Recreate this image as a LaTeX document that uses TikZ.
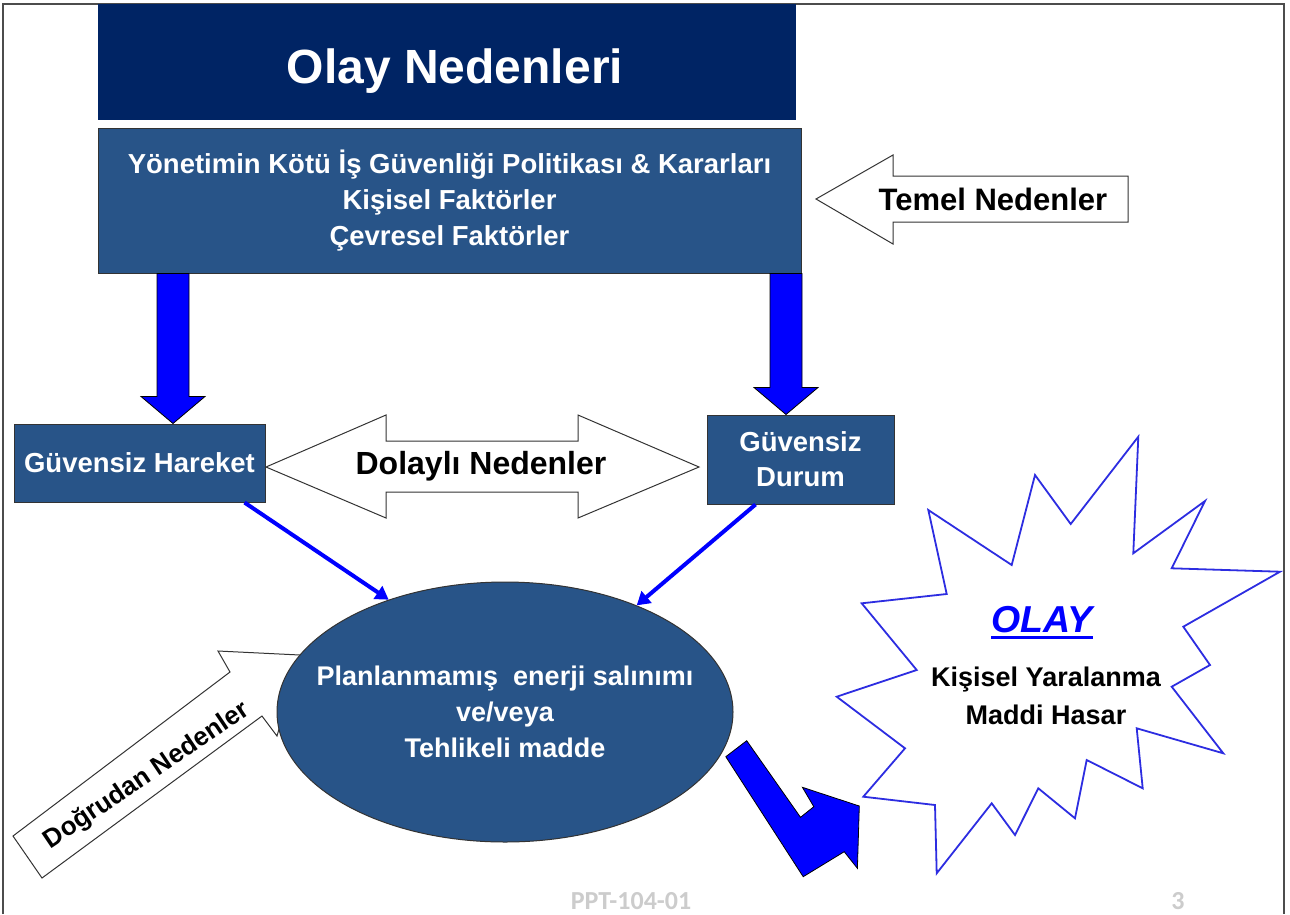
\documentclass[tikz,border=0pt]{standalone}
\usepackage{fontspec}
\setmainfont{Liberation Sans}
\newfontfamily\footfont{Carlito}
\usetikzlibrary{shapes.geometric,calc,arrows.meta}
\definecolor{titlenavy}{RGB}{0,36,100}
\definecolor{boxblue}{RGB}{40,84,136}
\definecolor{starblue}{RGB}{45,45,225}

% fat blue arrow from #1 (top of shaft) down to #2 (tip)
\newcommand{\fatdown}[2]{%
  \filldraw[fatarrow] ($(#1)+(-16,0)$) -- ($(#2)+(-16,-27)$) -- ($(#2)+(-32,-27)$) -- (#2)
    -- ($(#2)+(32,-27)$) -- ($(#2)+(16,-27)$) -- ($(#1)+(16,0)$) -- cycle;}

\begin{document}
\begin{tikzpicture}[x=1pt,y=-1pt,
	bluebox/.style={draw=black!80, line width=1pt, fill=boxblue, text=white, align=center, inner sep=0pt, font=\bfseries\fontsize{27.5}{35}\selectfont},
	fatarrow/.style={fill=blue, draw=black, line width=0.8pt},
	thinarrow/.style={draw=blue, line width=4pt, -{Triangle[length=13pt,width=15pt]}},
	hollow/.style={fill=white, draw=black!80, line width=1pt},
	darktext/.style={text=black, inner sep=0pt, font=\bfseries\fontsize{#1}{#1}\selectfont},
	foottext/.style={text=gray!40, inner sep=0pt, font=\footfont\bfseries\fontsize{26}{26}\selectfont}]
	\useasboundingbox (0,0) rectangle (1290,914);
	\draw[black!70, line width=1.5pt] (3,914) -- (3,4) -- (1284,4) -- (1284,914);

	\node[fill=titlenavy, minimum width=698pt, minimum height=116pt] (title) at (447,62) {};
	\node[text=white, inner sep=0pt, font=\bfseries\fontsize{48}{58}\selectfont] (titletext) at ([xshift=8pt,yshift=-9pt]title.center) {Olay Nedenleri};
	\node[bluebox, minimum width=703pt, minimum height=145pt, font=\bfseries\fontsize{27.5}{36}\selectfont] (main) at (449.5,200.5)
	{Yönetimin Kötü İş Güvenliği Politikası \& Kararları\\Kişisel Faktörler\\Çevresel Faktörler};

	\filldraw[hollow] (816,199) -- (893,155) -- (893,176) -- (1128,176) -- (1128,222) -- (893,222) -- (893,244) -- cycle;
	\node[darktext=31] (temel) at (993,199) {Temel Nedenler};

	\node[bluebox, minimum width=251pt, minimum height=78pt] (hareket) at (139.5,463) {Güvensiz Hareket};
	\node[bluebox, minimum width=187pt, minimum height=89pt] (durum) at (800.5,459.5) {Güvensiz\\Durum};

	\coordinate (lx) at (173,0);
	\coordinate (rx) at (786,0);
	\coordinate (ltop) at (main.south -| lx);
	\coordinate (ltip) at (hareket.north -| lx);
	\coordinate (rtop) at (main.south -| rx);
	\coordinate (rtip) at (durum.north -| rx);
	\fatdown{ltop}{ltip}
	\fatdown{rtop}{rtip}

	\filldraw[hollow] (266,467) -- (386,415) -- (386,441) -- (578,441) -- (578,415) -- (699,467)
	-- (578,518) -- (578,492) -- (386,492) -- (386,518) -- cycle;
	\node[darktext=32] (dolayli) at (481,466) {Dolaylı Nedenler};

	\filldraw[hollow] (13,836) -- (230,672) -- (218,651) -- (300,655) -- (277,736) -- (262,716) -- (42,878) -- cycle;
	\node[darktext=26, rotate=34] (dogrudan) at (147,776) {Doğrudan Nedenler};

	\node[ellipse, draw=black!80, line width=1pt, fill=boxblue, inner sep=0pt,
	minimum width=456pt, minimum height=260pt] (plan) at (505,712) {};
	\node[text=white, align=center, inner sep=0pt, font=\bfseries\fontsize{27}{36}\selectfont] (plantext) at (plan.center)
	{Planlanmamış~ enerji salınımı\\ve/veya\\Tehlikeli madde};

	\draw[thinarrow] ([xshift=-21pt]hareket.south east) -- (plan.136.8);
	\draw[thinarrow] ([xshift=49pt]durum.south west) -- (plan.39.5);

	\filldraw[fatarrow] (746.7,740.7) -- (725.8,756.7) -- (803.2,876.7) -- (844.2,851.7) -- (857.4,868.3)
	-- (859.3,806) -- (802.4,787.3) -- (813.8,806.7) -- (800.5,817.3) -- cycle;

	\filldraw[fill=white, draw=starblue, line width=1.8pt, line join=miter]
	(1138.3,436.7) -- (1133.3,553.3) -- (1205,501) -- (1171.7,568.3) -- (1280,571.7) -- (1183.3,626.7)
	-- (1210,665) -- (1171.7,686.7) -- (1223.3,753.3) -- (1136.7,728.3) -- (1142.7,788.3) -- (1086.7,760)
	-- (1075,818.3) -- (1038.3,788.3) -- (1015,835) -- (991.7,803.3) -- (936.7,873.3) -- (935,805)
	-- (863.3,796.7) -- (905,748.3) -- (836.7,696.7) -- (916.7,670) -- (861.7,603.3) -- (946.7,594)
	-- (928.3,510) -- (1011.7,565) -- (1035,475) -- (1070.7,524) -- cycle;
	\node[inner sep=0pt, text=blue, font=\bfseries\itshape\fontsize{37.5}{37.5}\selectfont] (olay) at (1042,620) {OLAY};
	\draw[blue, line width=3pt] ([yshift=-5pt]olay.base west) -- ([yshift=-5pt]olay.base east);
	\node[darktext=27, align=center, font=\bfseries\fontsize{27}{38}\selectfont] (sonuc) at (1046,696) {Kişisel Yaralanma\\Maddi Hasar};

	\node[foottext] (kod) at (631,901) {PPT-104-01};
	\node[foottext] (sayfa) at (1178,901) {3};
\end{tikzpicture}
\end{document}
